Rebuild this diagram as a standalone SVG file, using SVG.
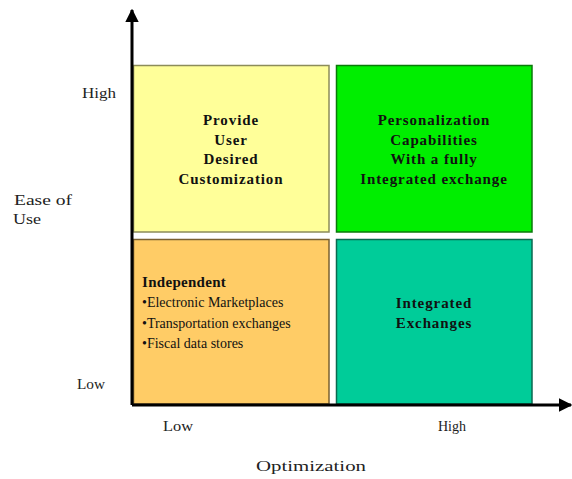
<svg xmlns="http://www.w3.org/2000/svg" width="572" height="479" viewBox="0 0 572 479">
  <style>
    .cell { stroke-width: 1.5; }
    .t { font-family: "Liberation Serif", "Times New Roman", serif; font-size: 14px; fill: #111; }
    .b { font-weight: bold; font-size: 15px; letter-spacing: 0.9px; }
    .ax { font-family: "Liberation Serif", "Times New Roman", serif; font-size: 14px; fill: #222; }
    .axis { stroke: #000; stroke-width: 3; fill: none; }
  </style>
  <defs>
    <marker id="arrow" viewBox="0 0 10 10" refX="9" refY="5" markerWidth="4.5" markerHeight="4.5" orient="auto" markerUnits="strokeWidth">
      <path d="M0,0 L10,5 L0,10 Z" fill="#000"/>
    </marker>
  </defs>
  <rect width="572" height="479" fill="#fff"/>

  <g id="q-top-left">
    <rect class="cell" x="133.5" y="65.5" width="195.5" height="166.5" fill="#FFFF99" stroke="#8C8C5A"/>
    <text class="t b" text-anchor="middle" x="231" y="125">Provide</text>
    <text class="t b" text-anchor="middle" x="231" y="144.5">User</text>
    <text class="t b" text-anchor="middle" x="231" y="164">Desired</text>
    <text class="t b" text-anchor="middle" x="231" y="183.5">Customization</text>
  </g>

  <g id="q-top-right">
    <rect class="cell" x="336.5" y="65.5" width="195.5" height="166.5" fill="#00EE00" stroke="#0A7A0A"/>
    <text class="t b" text-anchor="middle" x="434" y="125">Personalization</text>
    <text class="t b" text-anchor="middle" x="434" y="144.5">Capabilities</text>
    <text class="t b" text-anchor="middle" x="434" y="164">With a fully</text>
    <text class="t b" text-anchor="middle" x="434" y="183.5">Integrated exchange</text>
  </g>

  <g id="q-bottom-left">
    <rect class="cell" x="133.5" y="239.5" width="195.5" height="164.5" fill="#FFCC66" stroke="#7A6030"/>
    <text class="t b" x="142" y="287" style="letter-spacing:0.3px">Independent</text>
    <text class="t" x="142" y="307">•Electronic Marketplaces</text>
    <text class="t" x="142" y="327.5">•Transportation exchanges</text>
    <text class="t" x="142" y="348">•Fiscal data stores</text>
  </g>

  <g id="q-bottom-right">
    <rect class="cell" x="336.5" y="239.5" width="195.5" height="164.5" fill="#00CC99" stroke="#0A6A50"/>
    <text class="t b" text-anchor="middle" x="434" y="308">Integrated</text>
    <text class="t b" text-anchor="middle" x="434" y="328">Exchanges</text>
  </g>

  <g id="connectors">
    <line class="axis" x1="132" y1="405" x2="132" y2="10" marker-end="url(#arrow)"/>
    <line class="axis" x1="132" y1="405" x2="571" y2="405" marker-end="url(#arrow)"/>
  </g>

  <g id="axis-labels">
    <text class="ax" x="82" y="98" textLength="34" lengthAdjust="spacingAndGlyphs">High</text>
    <text class="ax" x="14" y="205" textLength="58" lengthAdjust="spacingAndGlyphs">Ease of</text>
    <text class="ax" x="13" y="224" textLength="28" lengthAdjust="spacingAndGlyphs">Use</text>
    <text class="ax" x="77" y="389" textLength="28" lengthAdjust="spacingAndGlyphs">Low</text>
    <text class="ax" x="163" y="431" textLength="30" lengthAdjust="spacingAndGlyphs">Low</text>
    <text class="ax" x="438" y="431" textLength="28" lengthAdjust="spacingAndGlyphs">High</text>
    <text class="ax" x="256" y="471" textLength="110" lengthAdjust="spacingAndGlyphs">Optimization</text>
  </g>
</svg>
